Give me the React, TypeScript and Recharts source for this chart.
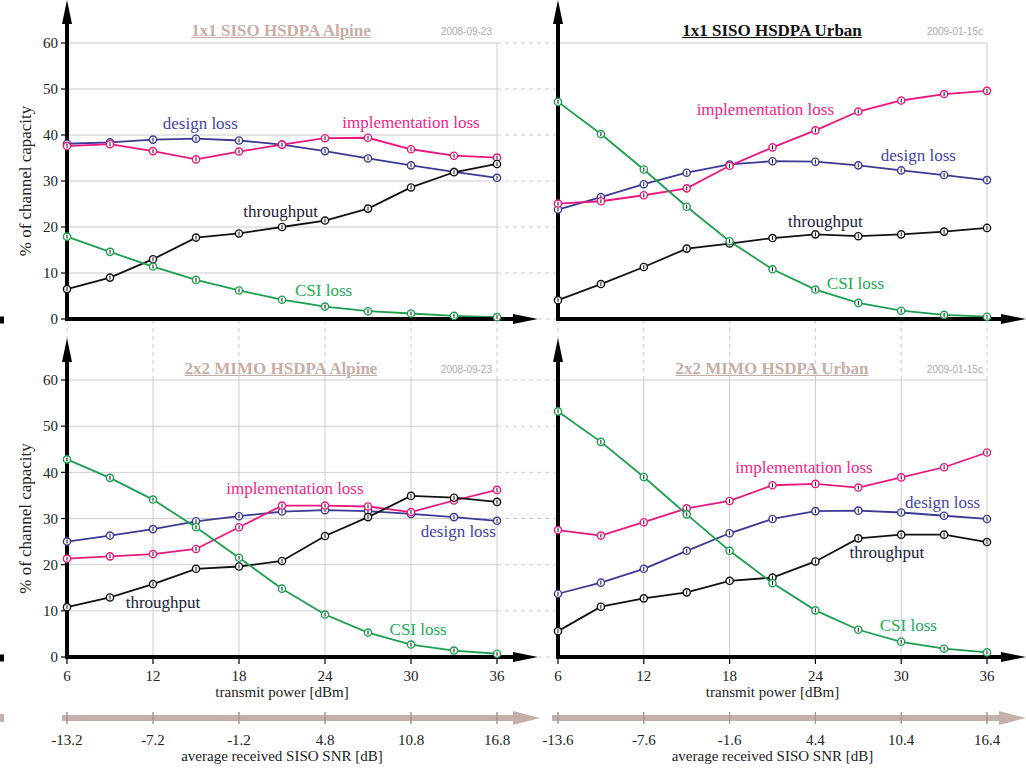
import { LineChart, Line, XAxis, YAxis, CartesianGrid, ReferenceLine, ReferenceDot } from 'recharts'

const txPower = [6, 9, 12, 15, 18, 21, 24, 27, 30, 33, 36]
const txTicks = [6, 12, 18, 24, 30, 36]
const capTicks = [0, 10, 20, 30, 40, 50, 60]
const snrTicksAlpine = ['-13.2', '-7.2', '-1.2', '4.8', '10.8', '16.8']
const snrTicksUrban = ['-13.6', '-7.6', '-1.6', '4.4', '10.4', '16.4']

// 1x1 SISO HSDPA Alpine
const sisoAlpineDesign = [38.1, 38.4, 39.0, 39.2, 38.8, 37.9, 36.5, 34.9, 33.4, 32.0, 30.7]
const sisoAlpineImpl = [37.6, 38.0, 36.5, 34.7, 36.4, 37.9, 39.3, 39.4, 36.9, 35.5, 35.1]
const sisoAlpineThroughput = [6.5, 9.0, 13.0, 17.7, 18.6, 20.0, 21.4, 24.0, 28.6, 31.9, 33.7]
const sisoAlpineCsi = [17.9, 14.6, 11.4, 8.5, 6.2, 4.2, 2.7, 1.7, 1.2, 0.7, 0.4]

// 1x1 SISO HSDPA Urban
const sisoUrbanDesign = [23.8, 26.5, 29.3, 31.8, 33.6, 34.3, 34.2, 33.4, 32.3, 31.3, 30.2]
const sisoUrbanImpl = [25.1, 25.6, 26.9, 28.4, 33.3, 37.3, 41.0, 45.1, 47.5, 48.9, 49.6]
const sisoUrbanThroughput = [4.1, 7.6, 11.3, 15.3, 16.4, 17.6, 18.4, 18.0, 18.4, 19.0, 19.8]
const sisoUrbanCsi = [47.2, 40.2, 32.5, 24.4, 16.9, 10.8, 6.4, 3.5, 1.8, 0.9, 0.5]

// 2x2 MIMO HSDPA Alpine
const mimoAlpineDesign = [25.0, 26.3, 27.7, 29.4, 30.5, 31.5, 31.8, 31.6, 31.0, 30.3, 29.5]
const mimoAlpineImpl = [21.3, 21.8, 22.3, 23.4, 28.1, 32.8, 32.8, 32.6, 31.4, 33.9, 36.2]
const mimoAlpineThroughput = [10.8, 12.9, 15.8, 19.1, 19.6, 20.8, 26.2, 30.3, 34.9, 34.5, 33.6]
const mimoAlpineCsi = [42.8, 38.8, 34.1, 28.1, 21.5, 14.8, 9.2, 5.3, 2.7, 1.4, 0.7]

// 2x2 MIMO HSDPA Urban
const mimoUrbanDesign = [13.7, 16.1, 19.1, 23.0, 26.8, 29.9, 31.6, 31.7, 31.3, 30.6, 29.9]
const mimoUrbanImpl = [27.5, 26.3, 29.2, 32.2, 33.8, 37.2, 37.5, 36.7, 38.9, 41.1, 44.3]
const mimoUrbanThroughput = [5.6, 10.9, 12.7, 14.0, 16.5, 17.2, 20.7, 25.7, 26.5, 26.5, 24.9]
const mimoUrbanCsi = [53.2, 46.6, 39.0, 30.9, 23.0, 16.0, 10.1, 5.9, 3.3, 1.8, 1.0]

const SERIF = '"Liberation Serif", "DejaVu Serif", serif'
const GRID = '#cccccc'
const ROSY = '#c4afab'

const SERIES = [
  { key: 'design', color: '#3a3a94', text: '#4444a8', name: 'design loss' },
  { key: 'impl', color: '#e8177f', text: '#f0268a', name: 'implementation loss' },
  { key: 'throughput', color: '#111111', text: '#1c1c3a', name: 'throughput' },
  { key: 'csi', color: '#1c9e4e', text: '#22aa55', name: 'CSI loss' },
]

const makeRows = (design: number[], impl: number[], throughput: number[], csi: number[]) =>
  txPower.map((x, i) => ({ x, design: design[i], impl: impl[i], throughput: throughput[i], csi: csi[i] }))

const arrow = (color: string, w: number, headLen: number, headHalf: number) => (p: any) => {
  const { x1, y1, x2, y2 } = p
  const len = Math.hypot(x2 - x1, y2 - y1) || 1
  const ux = (x2 - x1) / len
  const uy = (y2 - y1) / len
  const bx = x2 - ux * headLen
  const by = y2 - uy * headLen
  const pts = `${x2},${y2} ${bx - uy * headHalf},${by + ux * headHalf} ${bx + uy * headHalf},${by - ux * headHalf}`
  return (
    <g>
      <line x1={x1} y1={y1} x2={bx + ux} y2={by + uy} stroke={color} strokeWidth={w} />
      <polygon points={pts} fill={color} />
    </g>
  )
}

const marker = (color: string) => (p: any) => {
  const { cx, cy, index } = p
  if (cx == null || cy == null) return <g key={index} />
  return (
    <g key={index}>
      <circle cx={cx} cy={cy} r={3.6} fill="#fff" stroke={color} strokeWidth={1.4} />
      <line x1={cx} y1={cy - 2} x2={cx} y2={cy + 2} stroke="#111" strokeWidth={1} />
    </g>
  )
}

const labelShape = (text: string, color: string) => (p: any) => (
  <text x={p.cx} y={p.cy} textAnchor="middle" dominantBaseline="central" fill={color} fontSize={17} fontFamily={SERIF}>
    {text}
  </text>
)

type PanelCfg = {
  left: number
  top: number
  width: number
  height: number
  isLeft: boolean
  isBottom: boolean
  rows: any[]
  labels: { x: number; y: number }[]
  snrTicks?: string[]
  title: string
  titleColor: string
  date: string
}

function Panel({ cfg }: { cfg: PanelCfg }) {
  const { left, top, width, height, isLeft, isBottom, rows, labels, snrTicks } = cfg
  const yAxisWidth = isLeft ? 36 : 0
  const margin = {
    top: isBottom ? 60 : 43,
    right: isLeft ? 63 : 39,
    bottom: isBottom ? 0 : 6,
    left: isLeft ? 31 : 58,
  }
  // plot rectangle in page pixels, used to place the decorations
  const pl = left + margin.left + yAxisWidth
  const pr = left + width - margin.right
  const pt = top + margin.top
  const pb = isBottom ? 657 : 319
  const xAt = (px: number) => 6 + ((px - pl) * 30) / (pr - pl)
  const yAt = (py: number) => ((pb - py) * 60) / (pb - pt)

  const arrowEnd = isLeft ? 538 : 1026
  const arrowTop = isBottom ? 338 : 0
  const tickFont = { fill: '#222', fontSize: 15, fontFamily: SERIF }

  return (
    <div style={{ position: 'absolute', left, top, width, height }}>
      <LineChart width={width} height={height} data={rows} margin={margin}>
        <CartesianGrid xAxisId="a" stroke={GRID} strokeWidth={1} />
        {isBottom && snrTicks && (
          <XAxis
            xAxisId="b"
            dataKey="x"
            type="number"
            domain={[6, 36]}
            ticks={txTicks}
            tickFormatter={(v: number) => snrTicks[txTicks.indexOf(v)] ?? ''}
            axisLine={false}
            tickLine={{ stroke: '#a89490', strokeWidth: 1 }}
            tickSize={12}
            tickMargin={10}
            tick={tickFont}
            height={57}
            label={{ value: 'average received SISO SNR [dB]', position: 'insideTop', offset: 38, ...tickFont }}
          />
        )}
        <XAxis
          xAxisId="a"
          dataKey="x"
          type="number"
          domain={[6, 36]}
          ticks={txTicks}
          axisLine={false}
          tickLine={{ stroke: '#000', strokeWidth: 1.2 }}
          tickSize={7}
          tickMargin={6}
          tick={isBottom ? tickFont : false}
          height={isBottom ? 55 : 10}
          label={isBottom ? { value: 'transmit power [dBm]', position: 'insideTop', offset: 29, ...tickFont } : undefined}
        />
        <YAxis
          type="number"
          domain={[0, 60]}
          ticks={capTicks}
          width={yAxisWidth}
          axisLine={false}
          tickLine={isLeft ? { stroke: '#000', strokeWidth: 1.2 } : false}
          tickSize={6}
          tickMargin={3}
          tick={isLeft ? tickFont : false}
          label={
            isLeft
              ? { value: '% of channel capacity', angle: -90, position: 'center', dx: -24, fill: '#222', fontSize: 17, fontFamily: SERIF }
              : undefined
          }
        />

        {/* dashed gridline continuations between panels */}
        {isLeft &&
          capTicks.map((v) => (
            <ReferenceLine
              key={'h' + v}
              xAxisId="a"
              segment={[{ x: v === 0 ? xAt(538) : 36, y: v }, { x: xAt(558), y: v }]}
              stroke={GRID}
              strokeDasharray="4 4"
              ifOverflow="visible"
            />
          ))}
        {isBottom &&
          txTicks.map((v) => (
            <ReferenceLine
              key={'v' + v}
              xAxisId="a"
              segment={[{ x: v, y: 60 }, { x: v, y: yAt(321) }]}
              stroke={GRID}
              strokeDasharray="4 4"
              ifOverflow="visible"
            />
          ))}

        {/* remains of neighbouring figure at the left edge */}
        {isLeft && (
          <ReferenceLine
            xAxisId="a"
            segment={[{ x: xAt(0), y: yAt(pb + 1) }, { x: xAt(4), y: yAt(pb + 1) }]}
            stroke="#000"
            strokeWidth={7}
            ifOverflow="visible"
          />
        )}
        {isLeft && isBottom && (
          <ReferenceLine
            xAxisId="a"
            segment={[{ x: xAt(0), y: yAt(718) }, { x: xAt(4), y: yAt(718) }]}
            stroke={ROSY}
            strokeWidth={8}
            ifOverflow="visible"
          />
        )}

        {/* SNR arrow */}
        {isBottom && (
          <ReferenceLine
            xAxisId="a"
            segment={[{ x: xAt(isLeft ? 62 : 552), y: yAt(718) }, { x: xAt(isLeft ? 540 : 1026), y: yAt(718) }]}
            shape={arrow(ROSY, 6, 27, 7)}
            ifOverflow="visible"
          />
        )}
        {isBottom &&
          txTicks.map((v) => (
            <ReferenceLine
              key={'s' + v}
              xAxisId="a"
              segment={[{ x: v, y: yAt(712) }, { x: v, y: yAt(724) }]}
              stroke="#a89490"
              strokeWidth={1}
              ifOverflow="visible"
            />
          ))}

        {SERIES.map((s) => (
          <Line
            key={s.key}
            xAxisId="a"
            type="linear"
            dataKey={s.key}
            stroke={s.color}
            strokeWidth={1.8}
            dot={marker(s.color)}
            isAnimationActive={false}
          />
        ))}

        {/* axes with arrow heads */}
        <ReferenceLine
          xAxisId="a"
          segment={[{ x: 6, y: 0 }, { x: xAt(arrowEnd), y: 0 }]}
          shape={arrow('#000', 4, 25, 5)}
          ifOverflow="visible"
        />
        <ReferenceLine
          xAxisId="a"
          segment={[{ x: 6, y: yAt(pb + 2) }, { x: 6, y: yAt(arrowTop) }]}
          shape={arrow('#000', 4, 24, 5)}
          ifOverflow="visible"
        />

        {SERIES.map((s, i) => (
          <ReferenceDot
            key={'l' + s.key}
            xAxisId="a"
            x={labels[i].x}
            y={labels[i].y}
            shape={labelShape(s.name, s.text)}
            ifOverflow="visible"
          />
        ))}
      </LineChart>
    </div>
  )
}

const PANELS: PanelCfg[] = [
  {
    left: 0, top: 0, width: 560, height: 335, isLeft: true, isBottom: false,
    rows: makeRows(sisoAlpineDesign, sisoAlpineImpl, sisoAlpineThroughput, sisoAlpineCsi),
    labels: [{ x: 15.3, y: 42.5 }, { x: 30.0, y: 42.8 }, { x: 20.9, y: 23.4 }, { x: 23.9, y: 6.3 }],
    title: '1x1 SISO HSDPA Alpine', titleColor: '#c8ada5', date: '2008-09-23',
  },
  {
    left: 500, top: 0, width: 526, height: 335, isLeft: false, isBottom: false,
    rows: makeRows(sisoUrbanDesign, sisoUrbanImpl, sisoUrbanThroughput, sisoUrbanCsi),
    labels: [{ x: 31.2, y: 35.5 }, { x: 20.5, y: 45.5 }, { x: 24.7, y: 21.3 }, { x: 26.8, y: 7.7 }],
    title: '1x1 SISO HSDPA Urban', titleColor: '#111', date: '2009-01-15c',
  },
  {
    left: 0, top: 320, width: 560, height: 449, isLeft: true, isBottom: true, snrTicks: snrTicksAlpine,
    rows: makeRows(mimoAlpineDesign, mimoAlpineImpl, mimoAlpineThroughput, mimoAlpineCsi),
    labels: [{ x: 33.3, y: 27.1 }, { x: 21.9, y: 36.6 }, { x: 12.7, y: 11.9 }, { x: 30.5, y: 5.9 }],
    title: '2x2 MIMO HSDPA Alpine', titleColor: '#c8ada5', date: '2008-09-23',
  },
  {
    left: 500, top: 320, width: 526, height: 449, isLeft: false, isBottom: true, snrTicks: snrTicksUrban,
    rows: makeRows(mimoUrbanDesign, mimoUrbanImpl, mimoUrbanThroughput, mimoUrbanCsi),
    labels: [{ x: 32.9, y: 33.5 }, { x: 23.2, y: 41.0 }, { x: 29.0, y: 22.6 }, { x: 30.5, y: 6.9 }],
    title: '2x2 MIMO HSDPA Urban', titleColor: '#c8ada5', date: '2009-01-15c',
  },
]

function Heading({ cfg }: { cfg: PanelCfg }) {
  const cx = cfg.isLeft ? 281 : 772
  const cy = cfg.isBottom ? 369 : 31
  const dateRight = cfg.isLeft ? 492 : 983
  return (
    <>
      <div
        style={{
          position: 'absolute', left: cx - 150, top: cy - 11, width: 300, textAlign: 'center',
          fontFamily: SERIF, fontWeight: 'bold', fontSize: 17, lineHeight: '22px',
          color: cfg.titleColor, textDecoration: 'underline',
        }}
      >
        {cfg.title}
      </div>
      <div
        style={{
          position: 'absolute', left: dateRight - 100, top: cy - 6, width: 100, textAlign: 'right',
          fontFamily: '"Liberation Sans", Arial, sans-serif', fontSize: 10, lineHeight: '14px', color: '#aaaaaa',
        }}
      >
        {cfg.date}
      </div>
    </>
  )
}

export default function App() {
  return (
    <div style={{ position: 'absolute', left: 0, top: 0, width: 1026, height: 769, background: '#fff', overflow: 'hidden' }}>
      {PANELS.map((p, i) => (
        <Panel key={i} cfg={p} />
      ))}
      {PANELS.map((p, i) => (
        <Heading key={'t' + i} cfg={p} />
      ))}
    </div>
  )
}
